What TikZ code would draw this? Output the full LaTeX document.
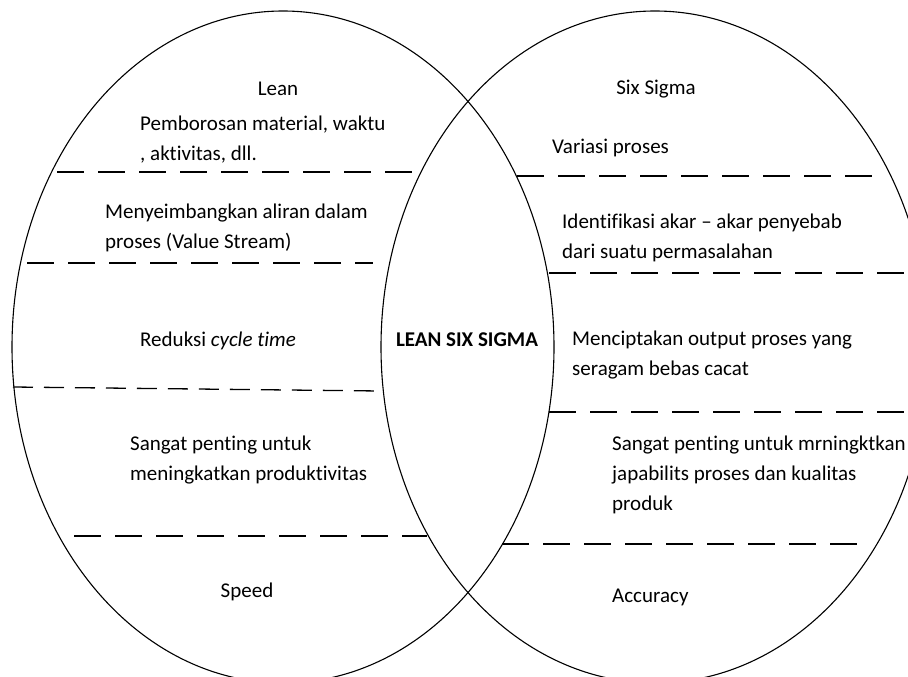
\documentclass[tikz,border=0pt]{standalone}
\usepackage{fontspec}
\setmainfont{Carlito}[Ligatures=NoCommon]
\usepackage{tikz}
\usetikzlibrary{positioning,calc}

\begin{document}
\begin{tikzpicture}[
    x=1pt, y=-1pt,
    every node/.style={font=\fontsize{21}{30}\selectfont, inner sep=0pt},
    txt/.style={anchor=west, align=left},
    ttl/.style={anchor=center},
    outline/.style={line width=1.1pt},
    longdash/.style={line width=1.8pt, dash pattern=on 27pt off 14pt},
    shortdash/.style={line width=1.3pt, dash pattern=on 20pt off 11pt}
]
\useasboundingbox (0,0) rectangle (908,677);
\draw[outline] (283,347) ellipse [x radius=271pt, y radius=336pt];
\draw[outline] (655,347) ellipse [x radius=274pt, y radius=336pt];

\draw[longdash] (57,172) -- (418,172);
\draw[longdash] (27,263) -- (373,263);
\draw[shortdash] (13,387) -- (380,391);
\draw[longdash] (74,536) -- (427,536);
\draw[longdash] (517,176) -- (879,176);
\draw[longdash] (549,273) -- (915,273);
\draw[longdash] (549,412) -- (915,412);
\draw[longdash] (502,544) -- (866,544);

\node[ttl] (lean) at (278,89) {Lean};
\node[txt] (waste) at (140,140) {Pemborosan material, waktu\\, aktivitas, dll.};
\node[txt] (flow) at (105,228) {Menyeimbangkan aliran dalam\\proses (Value Stream)};
\node[txt] (cycle) at (140,341) {Reduksi \textit{cycle time}};
\node[txt] (prod) at (130,460) {Sangat penting untuk\\meningkatkan produktivitas};
\node[ttl] (speed) at (247,592) {Speed};

\node[ttl, font=\fontsize{21}{30}\selectfont\bfseries] (lss) at (467,340) {LEAN SIX SIGMA};

\node[ttl] (sigma) at (656,89) {Six Sigma};
\node[txt] (var) at (552,148) {Variasi proses};
\node[txt] (root) at (562,238) {Identifikasi akar -- akar penyebab\\dari suatu permasalahan};
\node[txt] (output) at (572,355) {Menciptakan output proses yang\\seragam bebas cacat};
\node[txt] (capab) at (612,475) {Sangat penting untuk mrningktkan\\japabilits proses dan kualitas\\produk};
\node[txt] (acc) at (612,597) {Accuracy};
\end{tikzpicture}
\end{document}
